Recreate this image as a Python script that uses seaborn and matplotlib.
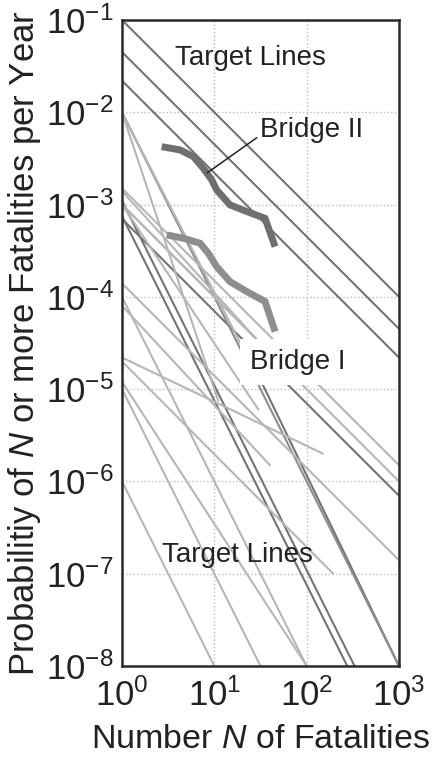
import matplotlib
matplotlib.use("Agg")
import matplotlib.pyplot as plt
import seaborn as sns
import pandas as pd
import numpy as np

# ---------------- data ----------------
# Target lines: straight segments in log-log space (start N, start P, end N, end P, shade)
line_n0 = [1, 1, 1, 1, 1, 1, 1, 1, 1, 1, 1, 1, 1, 1, 1, 1, 1, 1, 1,
           1, 1, 30, 1]
line_p0 = [1e-1, 4.5e-2, 2.2e-2, 1e-2, 1e-2, 1e-3, 7e-4, 1.5e-3, 1e-3, 1.1e-3, 7.5e-4,
           1.4e-4, 1e-4, 2e-5, 1e-5, 1.2e-5, 1e-6, 2.2e-5, 8e-5,
           1e-3, 1.4e-3, 1.4e-5, 1e-2]
line_n1 = [1000, 1000, 1000, 1000, 11, 1000, 1000, 1000, 30, 330, 275,
           1000, 100, 194, 31.6, 100, 10, 150, 40,
           45, 40, 1000, 22]
line_p1 = [1e-4, 4.5e-5, 2.2e-5, 1e-8, 7.5e-6, 1e-6, 7e-7, 1.5e-6, 6e-6, 1e-8, 1e-8,
           1.4e-7, 1e-8, 1e-7, 1e-8, 1e-8, 1e-8, 2.0e-6, 1.5e-6,
           2.2e-5, 2.4e-5, 1e-8, 2.4e-5]
line_shade = ["dark", "dark", "dark", "mid", "light", "light", "dark", "light", "light", "dark", "dark",
              "light", "light", "light", "light", "light", "light", "light", "light",
              "light", "light", "dark", "light"]

# Bridge FN curves
bridge2_n = [2.69, 4.25, 5.92, 7.60, 9.37, 10.6, 14.8, 22.5, 35.4, 45.5]
bridge2_p = [4.24e-3, 3.91e-3, 3.31e-3, 2.47e-3, 1.85e-3, 1.44e-3, 9.9e-4, 8.4e-4, 7.1e-4, 3.5e-4]
bridge1_n = [3.05, 4.61, 7.0, 8.61, 10.6, 14.8, 22.5, 35.4, 45.5]
bridge1_p = [4.69e-4, 4.32e-4, 3.81e-4, 2.97e-4, 2.12e-4, 1.46e-4, 1.14e-4, 8.9e-5, 4.2e-5]

x_ticks = [1e0, 1e1, 1e2, 1e3]
y_ticks = [1e-8, 1e-7, 1e-6, 1e-5, 1e-4, 1e-3, 1e-2, 1e-1]

# ---------------- style ----------------
sns.set_theme(style="white")
plt.rcParams["font.family"] = ["Liberation Sans", "DejaVu Sans"]
plt.rcParams["mathtext.fontset"] = "custom"
plt.rcParams["mathtext.rm"] = "Liberation Sans"
plt.rcParams["mathtext.it"] = "Liberation Sans:italic"
plt.rcParams["mathtext.default"] = "regular"

fig = plt.figure(figsize=(4.32, 7.59), dpi=100)
ax = fig.add_axes([122 / 432, 1 - 666 / 759, (399 - 122) / 432, (666 - 20) / 759])

rows = []
for i, (a, b, c, d, s) in enumerate(zip(line_n0, line_p0, line_n1, line_p1, line_shade)):
    rows.append({"id": i, "N": a, "P": b, "shade": s})
    rows.append({"id": i, "N": c, "P": d, "shade": s})
df_lines = pd.DataFrame(rows)
palette = {"dark": "#737373", "mid": "#8d8d8d", "light": "#b6b6b6"}
sns.lineplot(data=df_lines, x="N", y="P", units="id", estimator=None, hue="shade",
             palette=palette, legend=False, sort=False, lw=1.5, ax=ax, zorder=2)

df_b2 = pd.DataFrame({"N": bridge2_n, "P": bridge2_p})
df_b1 = pd.DataFrame({"N": bridge1_n, "P": bridge1_p})
sns.lineplot(data=df_b2, x="N", y="P", estimator=None, sort=False, color="#6f6f6f",
             lw=5, ax=ax, zorder=4, solid_capstyle="butt", solid_joinstyle="miter")
sns.lineplot(data=df_b1, x="N", y="P", estimator=None, sort=False, color="#8e8e8e",
             lw=5, ax=ax, zorder=4, solid_capstyle="butt", solid_joinstyle="miter")

ax.set_xscale("log")
ax.set_yscale("log")
ax.set_xlim(1, 1000)
ax.set_ylim(1e-8, 1e-1)
ax.set_xticks(x_ticks)
ax.set_yticks(y_ticks)
ax.minorticks_off()

ax.grid(True, which="major", color="#bcbcbc", linestyle=":", linewidth=1.0, zorder=1)
ax.set_axisbelow(True)

for sp in ax.spines.values():
    sp.set_color("#2a2a2a")
    sp.set_linewidth(1.8)

ax.tick_params(axis="both", which="both", length=0, labelsize=25, colors="#222222")
ax.tick_params(axis="x", pad=9)
ax.tick_params(axis="y", pad=6)

ax.set_xlabel("Number $\\it{N}$ of Fatalities", fontsize=24.5, color="#222222", labelpad=8)
ax.set_ylabel("Probabilitiy of $\\it{N}$ or more Fatalities per Year", fontsize=25,
              color="#222222", labelpad=2)

ax.text(3.75, 3.9e-2, "Target Lines", fontsize=20, color="#222222", va="center", ha="left", zorder=5)
ax.text(2.71, 1.6e-7, "Target Lines", fontsize=20, color="#222222", va="center", ha="left", zorder=5)
ax.text(24.4, 1.97e-5, "Bridge I", fontsize=20, color="#222222", va="center", ha="left", zorder=5,
        bbox=dict(boxstyle="square,pad=0.35", fc="white", ec="none"))
ax.annotate("Bridge II", xy=(8.34, 2.2e-3), xytext=(31.3, 6.4e-3), fontsize=20, color="#222222",
            va="center", ha="left", zorder=5,
            arrowprops=dict(arrowstyle="-", color="#222222", lw=1.1, shrinkA=0, shrinkB=0,
                            relpos=(0.0, 0.3)))

fig.savefig("out.png", dpi=100)
